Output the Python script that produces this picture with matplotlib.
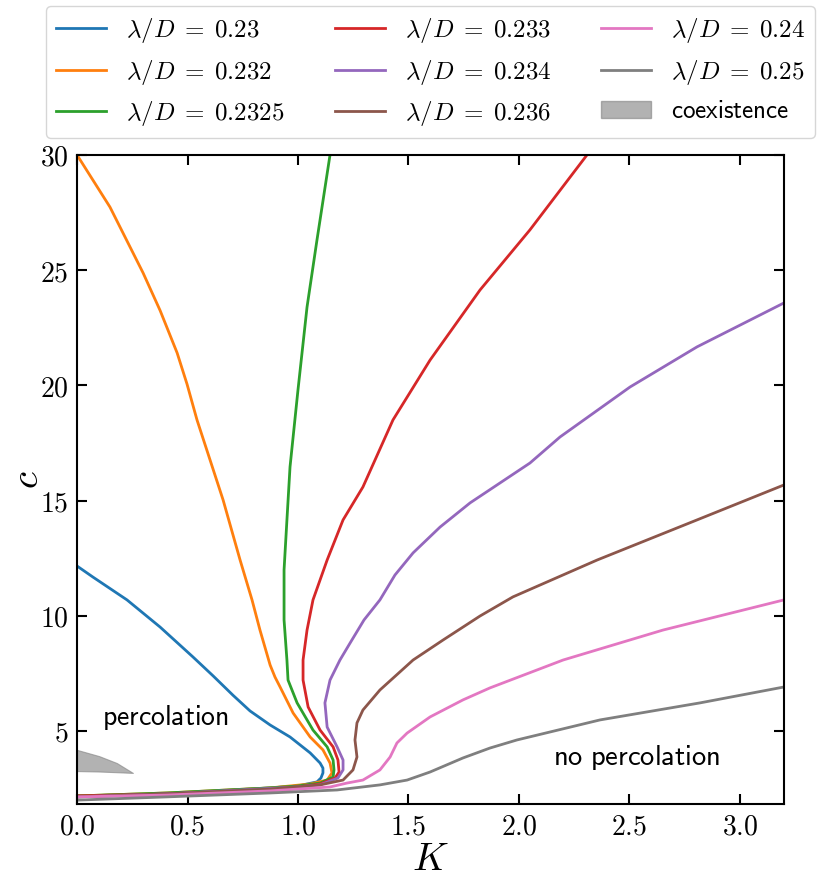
import matplotlib
matplotlib.use('Agg')
import matplotlib.pyplot as plt
from matplotlib.ticker import FuncFormatter, MultipleLocator
from matplotlib.patches import Patch

plt.rcParams['mathtext.fontset'] = 'cm'

# curves: upper branch -> turning point -> lower branch
k_023 = [0.0, 0.072, 0.226, 0.376, 0.525, 0.616, 0.706, 0.783, 0.874, 0.964, 1.055, 1.100, 1.113, 1.113, 1.104, 1.086, 0.996, 0.874, 0.407, 0.0]
c_023 = [12.16, 11.68, 10.69, 9.51, 8.21, 7.39, 6.55, 5.87, 5.26, 4.74, 4.05, 3.61, 3.39, 3.18, 2.96, 2.79, 2.61, 2.53, 2.27, 2.18]

k_0232 = [0.0, 0.149, 0.299, 0.376, 0.453, 0.498, 0.543, 0.661, 0.738, 0.792, 0.828, 0.874, 0.896, 0.919, 0.978, 1.055, 1.113, 1.145, 1.154, 1.132, 1.055, 0.874, 0.407, 0.0]
c_0232 = [30.0, 27.74, 24.88, 23.25, 21.41, 20.05, 18.50, 15.03, 12.42, 10.69, 9.38, 7.86, 7.34, 6.91, 5.78, 4.74, 4.18, 3.61, 3.18, 2.87, 2.70, 2.53, 2.31, 2.18]

k_02325 = [1.145, 1.086, 1.041, 1.000, 0.964, 0.950, 0.937, 0.937, 0.950, 0.955, 0.996, 1.068, 1.132, 1.159, 1.163, 1.159, 1.100, 0.996, 0.874, 0.407, 0.0]
c_02325 = [30.0, 26.31, 23.40, 19.80, 16.46, 14.16, 11.99, 9.82, 8.08, 7.21, 6.22, 5.04, 4.31, 3.74, 3.31, 3.00, 2.74, 2.61, 2.53, 2.31, 2.18]

k_0233 = [2.308, 2.050, 1.824, 1.598, 1.430, 1.294, 1.204, 1.132, 1.068, 1.041, 1.023, 1.023, 1.046, 1.100, 1.159, 1.181, 1.186, 1.168, 1.100, 0.996, 0.874, 0.407, 0.0]
c_0233 = [30.0, 26.75, 24.14, 21.10, 18.50, 15.59, 14.16, 12.42, 10.69, 9.38, 8.08, 7.21, 6.04, 5.04, 4.31, 3.74, 3.22, 2.96, 2.70, 2.57, 2.48, 2.27, 2.18]

k_0234 = [3.2, 2.806, 2.503, 2.186, 2.050, 1.779, 1.643, 1.521, 1.439, 1.371, 1.299, 1.236, 1.190, 1.145, 1.122, 1.132, 1.177, 1.204, 1.204, 1.181, 1.100, 0.996, 0.407, 0.0]
c_0234 = [23.58, 21.67, 19.93, 17.76, 16.63, 14.90, 13.85, 12.73, 11.77, 10.69, 9.82, 8.82, 8.08, 7.21, 6.22, 5.17, 4.31, 3.74, 3.31, 2.96, 2.66, 2.57, 2.27, 2.14]

k_0236 = [3.2, 2.806, 2.354, 1.973, 1.824, 1.657, 1.521, 1.371, 1.294, 1.267, 1.258, 1.267, 1.249, 1.204, 1.100, 0.874, 0.407, 0.0]
c_0236 = [15.68, 14.16, 12.42, 10.82, 9.99, 8.95, 8.08, 6.78, 5.91, 5.35, 4.61, 3.87, 3.31, 2.87, 2.66, 2.48, 2.27, 2.14]

k_024 = [3.2, 2.652, 2.200, 1.869, 1.747, 1.598, 1.494, 1.448, 1.417, 1.371, 1.294, 1.222, 1.145, 0.874, 0.407, 0.0]
c_024 = [10.69, 9.38, 8.08, 6.87, 6.35, 5.61, 4.91, 4.48, 3.87, 3.31, 2.87, 2.74, 2.57, 2.40, 2.22, 2.14]

k_025 = [3.2, 2.820, 2.367, 1.991, 1.869, 1.747, 1.598, 1.494, 1.371, 1.177, 0.874, 0.407, 0.0]
c_025 = [6.91, 6.22, 5.48, 4.61, 4.26, 3.83, 3.22, 2.87, 2.66, 2.44, 2.31, 2.14, 2.00]

curves = [
    ('0.23', k_023, c_023, 'tab:blue'),
    ('0.232', k_0232, c_0232, 'tab:orange'),
    ('0.2325', k_02325, c_02325, 'tab:green'),
    ('0.233', k_0233, c_0233, 'tab:red'),
    ('0.234', k_0234, c_0234, 'tab:purple'),
    ('0.236', k_0236, c_0236, 'tab:brown'),
    ('0.24', k_024, c_024, 'tab:pink'),
    ('0.25', k_025, c_025, 'tab:gray'),
]

# coexistence region
k_coex = [0.0, 0.10, 0.18, 0.253]
c_coex_low = [3.26, 3.24, 3.21, 3.18]
c_coex_high = [4.18, 3.91, 3.61, 3.18]

fig = plt.figure(figsize=(8.31, 8.85), dpi=100)
ax = fig.add_axes([0.0927, 0.0915, 0.8508, 0.7334])

for lam, k, c, col in curves:
    ax.plot(k, c, color=col, lw=2, label=r'$\lambda/D \;=\; %s$' % lam)

ax.fill_between(k_coex, c_coex_low, c_coex_high, color='gray', alpha=0.6, lw=0.8)

ax.text(0.40, 5.6, r'$\mathsf{percolation}$', fontsize=20, ha='center', va='center')
ax.text(2.535, 3.85, r'$\mathsf{no\ percolation}$', fontsize=20.5, ha='center', va='center')

ax.set_xlim(0, 3.2)
ax.set_ylim(1.83, 30)
ax.xaxis.set_major_locator(MultipleLocator(0.5))
ax.yaxis.set_major_locator(MultipleLocator(5))
ax.xaxis.set_major_formatter(FuncFormatter(lambda v, p: r'$%.1f$' % v))
ax.yaxis.set_major_formatter(FuncFormatter(lambda v, p: r'$%d$' % round(v)))
ax.tick_params(direction='in', top=True, right=True, length=7, width=1.5, labelsize=20, pad=6)
for s in ax.spines.values():
    s.set_linewidth(1.5)

ax.set_xlabel(r'$K$', fontsize=28, labelpad=0)
ax.set_ylabel(r'$c$', fontsize=28, labelpad=-4)

handles, labels = ax.get_legend_handles_labels()
# legend reads column-wise, coexistence patch last
handles.append(Patch(facecolor='gray', alpha=0.6, edgecolor='gray'))
labels.append(r'$\mathsf{coexistence}$')
ax.legend(handles, labels, ncol=3, loc='lower center', bbox_to_anchor=(0.5, 1.026),
          borderaxespad=0, fontsize=18)

fig.savefig('out.png', dpi=100)
